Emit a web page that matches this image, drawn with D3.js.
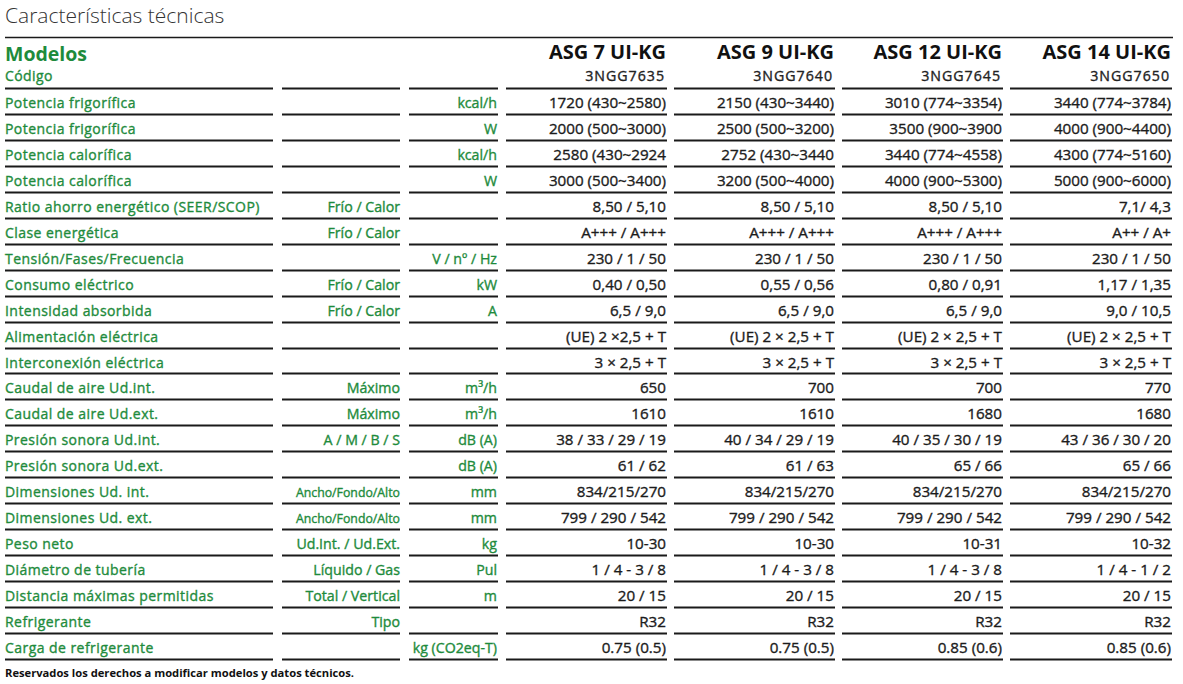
<!DOCTYPE html>
<html><head><meta charset="utf-8">
<script src="https://cdn.jsdelivr.net/npm/d3@7"></script>
<style>
html,body{margin:0;padding:0;background:#fff;}
svg{display:block;font-family:"Open Sans",sans-serif;}
.thick{stroke-width:0.35px;paint-order:stroke;}
</style></head>
<body><svg id="c" width="1183" height="684"></svg>
<script>
const title = "Características técnicas";
const footer = "Reservados los derechos a modificar modelos y datos técnicos.";
const models = ["ASG 7 UI-KG","ASG 9 UI-KG","ASG 12 UI-KG","ASG 14 UI-KG"];
const codes = ["3NGG7635","3NGG7640","3NGG7645","3NGG7650"];
const rowLabels = ["Potencia frigorífica","Potencia frigorífica","Potencia calorífica","Potencia calorífica","Ratio ahorro energético (SEER/SCOP)","Clase energética","Tensión/Fases/Frecuencia","Consumo eléctrico","Intensidad absorbida","Alimentación eléctrica","Interconexión eléctrica","Caudal de aire Ud.int.","Caudal de aire Ud.ext.","Presión sonora Ud.int.","Presión sonora Ud.ext.","Dimensiones Ud. int.","Dimensiones Ud. ext.","Peso neto","Diámetro de tubería","Distancia máximas permitidas","Refrigerante","Carga de refrigerante"];
const subLabels = ["","","","","Frío / Calor","Frío / Calor","","Frío / Calor","Frío / Calor","","","Máximo","Máximo","A / M / B / S","","Ancho/Fondo/Alto","Ancho/Fondo/Alto","Ud.Int. / Ud.Ext.","Líquido / Gas","Total / Vertical","Tipo",""];
const units = ["kcal/h","W","kcal/h","W","","","V / nº / Hz","kW","A","","","m³/h","m³/h","dB (A)","dB (A)","mm","mm","kg","Pul","m","","kg (CO2eq-T)"];
const valsASG7 = ["1720 (430~2580)","2000 (500~3000)","2580 (430~2924","3000 (500~3400)","8,50 / 5,10","A+++ / A+++","230 / 1 / 50","0,40 / 0,50","6,5 / 9,0","(UE) 2 ×2,5 + T","3 × 2,5 + T","650","1610","38 / 33 / 29 / 19","61 / 62","834/215/270","799 / 290 / 542","10-30","1 / 4 - 3 / 8","20 / 15","R32","0.75 (0.5)"];
const valsASG9 = ["2150 (430~3440)","2500 (500~3200)","2752 (430~3440","3200 (500~4000)","8,50 / 5,10","A+++ / A+++","230 / 1 / 50","0,55 / 0,56","6,5 / 9,0","(UE) 2 × 2,5 + T","3 × 2,5 + T","700","1610","40 / 34 / 29 / 19","61 / 63","834/215/270","799 / 290 / 542","10-30","1 / 4 - 3 / 8","20 / 15","R32","0.75 (0.5)"];
const valsASG12 = ["3010 (774~3354)","3500 (900~3900","3440 (774~4558)","4000 (900~5300)","8,50 / 5,10","A+++ / A+++","230 / 1 / 50","0,80 / 0,91","6,5 / 9,0","(UE) 2 × 2,5 + T","3 × 2,5 + T","700","1680","40 / 35 / 30 / 19","65 / 66","834/215/270","799 / 290 / 542","10-31","1 / 4 - 3 / 8","20 / 15","R32","0.85 (0.6)"];
const valsASG14 = ["3440 (774~3784)","4000 (900~4400)","4300 (774~5160)","5000 (900~6000)","7,1/ 4,3","A++ / A+","230 / 1 / 50","1,17 / 1,35","9,0 / 10,5","(UE) 2 × 2,5 + T","3 × 2,5 + T","770","1680","43 / 36 / 30 / 20","65 / 66","834/215/270","799 / 290 / 542","10-32","1 / 4 - 1 / 2","20 / 15","R32","0.85 (0.6)"];
const values = [valsASG7, valsASG9, valsASG12, valsASG14];

const green = "#1e8b3c", ink = "#1c1c1c", lineC = "#1a1a1a";
const svg = d3.select("#c");

const cols = [[5,273],[282,400],[409,498],[506,667],[674,835],[842,1003],[1010,1172]];
const y = d3.scaleLinear().domain([0, rowLabels.length]).range([88, 88 + 25.95*rowLabels.length]);

svg.append("text").attr("x",5).attr("y",23).attr("font-size",21).attr("font-weight",300)
  .attr("fill","#333").text(title);
svg.append("line").attr("x1",5).attr("x2",1173).attr("y1",37.5).attr("y2",37.5)
  .attr("stroke",lineC).attr("stroke-width",1.5);

svg.append("text").attr("x",5).attr("y",61).attr("font-size",19.5).attr("font-weight",700)
  .attr("fill",green).text("Modelos");
svg.append("text").attr("class","thick").attr("stroke",green).attr("x",5).attr("y",81).attr("font-size",14)
  .attr("fill",green).attr("letter-spacing",0.4).text("Código");

const mcols = cols.slice(3);
svg.selectAll("text.model").data(models).join("text").attr("class","model")
  .attr("x",(d,i)=>mcols[i][1]-1).attr("y",59).attr("text-anchor","end")
  .attr("font-size",20).attr("font-weight",700).attr("fill","#111").text(d=>d);
svg.selectAll("text.code").data(codes).join("text").attr("class","code thick")
  .attr("x",(d,i)=>mcols[i][1]-2).attr("y",81).attr("text-anchor","end")
  .attr("font-size",14.2).attr("letter-spacing",1).attr("stroke","#222")
  .attr("fill","#222").text(d=>d);

const lineRows = d3.range(0, rowLabels.length+1);
cols.forEach(c=>{
  svg.append("g").selectAll("line").data(lineRows).join("line")
    .attr("x1",c[0]).attr("x2",c[1])
    .attr("y1",d=>Math.round(y(d))+0.5).attr("y2",d=>Math.round(y(d))+0.5)
    .attr("stroke",lineC).attr("stroke-width",2);
});

const base = i => y(i) + 20;
svg.append("g").attr("class","thick").attr("stroke",green).selectAll("text").data(rowLabels).join("text")
  .attr("x",5).attr("y",(d,i)=>base(i)).attr("font-size",14)
  .attr("fill",green).attr("letter-spacing",0.45).text(d=>d);
svg.append("g").attr("class","thick").attr("stroke",green).selectAll("text").data(subLabels).join("text")
  .attr("x",cols[1][1]).attr("y",(d,i)=>base(i)).attr("text-anchor","end")
  .attr("font-size",(d)=>d.startsWith("Ancho")?12.3:14.2)
  .attr("fill",green).text(d=>d);
svg.append("g").attr("class","thick").attr("stroke",green).selectAll("text").data(units).join("text")
  .attr("x",cols[2][1]-1).attr("y",(d,i)=>base(i)).attr("text-anchor","end")
  .attr("font-size",14.2).attr("fill",green).text(d=>d);

values.forEach((vals,m)=>{
  svg.append("g").attr("class","thick").attr("stroke",ink).selectAll("text").data(vals).join("text")
    .attr("x",mcols[m][1]-1).attr("y",(d,i)=>base(i)).attr("text-anchor","end")
    .attr("font-size",15.2).attr("fill",ink).text(d=>d);
});

svg.append("text").attr("x",5).attr("y",677).attr("font-size",11.2).attr("font-weight",700)
  .attr("fill","#111").text(footer);
</script></body></html>
